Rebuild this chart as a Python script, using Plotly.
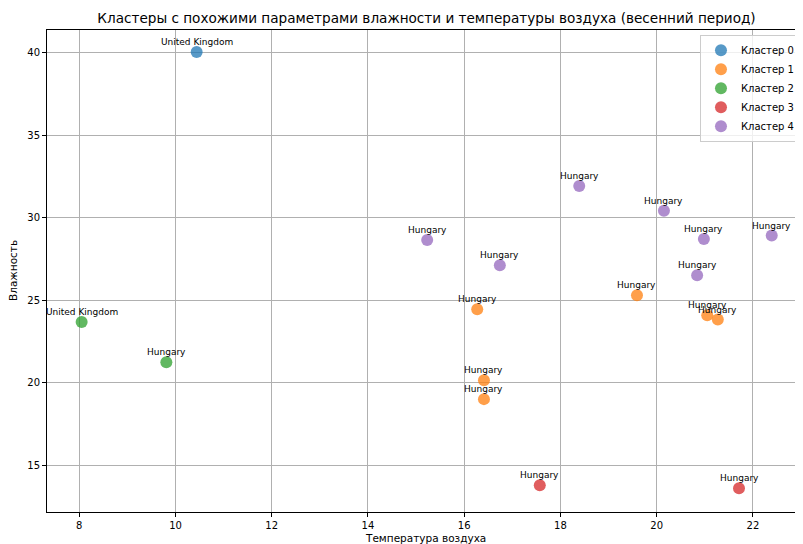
import plotly.graph_objects as go

# Data
cluster_names = ["Кластер 0", "Кластер 1", "Кластер 2", "Кластер 3", "Кластер 4"]
cluster_colors = ["#1f77b4", "#ff7f0e", "#2ca02c", "#d62728", "#9467bd"]

c0_temp = [10.44]
c0_hum = [40.04]
c0_country = ["United Kingdom"]

c1_temp = [16.27, 16.41, 16.41, 19.59, 21.05, 21.27]
c1_hum = [24.45, 20.15, 19.00, 25.30, 24.08, 23.82]
c1_country = ["Hungary"] * 6

c2_temp = [8.05, 9.81]
c2_hum = [23.68, 21.24]
c2_country = ["United Kingdom", "Hungary"]

c3_temp = [17.57, 21.71]
c3_hum = [13.78, 13.60]
c3_country = ["Hungary", "Hungary"]

c4_temp = [18.39, 20.15, 15.23, 16.74, 20.98, 22.39, 20.84]
c4_hum = [31.92, 30.41, 28.65, 27.12, 28.71, 28.91, 26.51]
c4_country = ["Hungary"] * 7

x_ticks = [8, 10, 12, 14, 16, 18, 20, 22]
y_ticks = [15, 20, 25, 30, 35, 40]

title_text = "Кластеры с похожими параметрами влажности и температуры воздуха (весенний период)"
x_label = "Температура воздуха"
y_label = "Влажность"

clusters = [
    (c0_temp, c0_hum, c0_country),
    (c1_temp, c1_hum, c1_country),
    (c2_temp, c2_hum, c2_country),
    (c3_temp, c3_hum, c3_country),
    (c4_temp, c4_hum, c4_country),
]

FONT = "DejaVu Sans"

fig = go.Figure()
annotations = []
for name, color, (xs, ys, labels) in zip(cluster_names, cluster_colors, clusters):
    fig.add_trace(go.Scatter(
        x=xs, y=ys, mode="markers", name=name,
        text=labels,
        marker=dict(size=12, color=color, opacity=0.75, line=dict(width=0)),
        hoverinfo="x+y+text",
    ))
    for xv, yv, lab in zip(xs, ys, labels):
        annotations.append(dict(
            x=xv, y=yv, xref="x", yref="y", text=lab, showarrow=False,
            xanchor="center", yanchor="middle", yshift=10,
            font=dict(family=FONT, size=9, color="black"),
        ))

# axis titles
annotations.append(dict(
    text=x_label, xref="paper", yref="paper", x=0.5, y=-0.054,
    xanchor="center", yanchor="middle", showarrow=False,
    font=dict(family=FONT, size=10.5, color="black"),
))
annotations.append(dict(
    text=y_label, xref="paper", yref="paper", x=0, y=0.5,
    xshift=-34, xanchor="center", yanchor="middle", textangle=-90, showarrow=False,
    font=dict(family=FONT, size=10.5, color="black"),
))

axis_common = dict(
    showline=True, linecolor="black", linewidth=1,
    ticks="outside", ticklen=4, tickcolor="black",
    showgrid=True, gridcolor="#b0b0b0", gridwidth=1,
    zeroline=False, automargin=False,
    tickfont=dict(family=FONT, size=10, color="black"),
)

# The page body adds an 8px margin, so the figure is sized 8px smaller.
# The reference's plot area runs past the right edge of the picture.
fig.update_layout(
    width=795, height=536,
    margin=dict(l=39, r=0, t=22, b=32),
    paper_bgcolor="white", plot_bgcolor="white",
    title=dict(text=title_text, x=0.502, xref="paper", xanchor="center",
               y=0.981, yanchor="middle",
               font=dict(family=FONT, size=13.6, color="black")),
    xaxis=dict(range=[7.33, 23.04], tickvals=x_ticks, mirror=True, **axis_common),
    yaxis=dict(range=[12.16, 41.37], tickvals=y_ticks, mirror=False, **axis_common),
    legend=dict(x=0.996, y=0.99, xanchor="right", yanchor="top",
                bgcolor="rgba(255,255,255,0.8)", bordercolor="#cccccc", borderwidth=1,
                font=dict(family=FONT, size=10, color="black"),
                tracegroupgap=0, itemsizing="constant"),
    annotations=annotations,
    showlegend=True,
)

fig.write_html("out.html")
